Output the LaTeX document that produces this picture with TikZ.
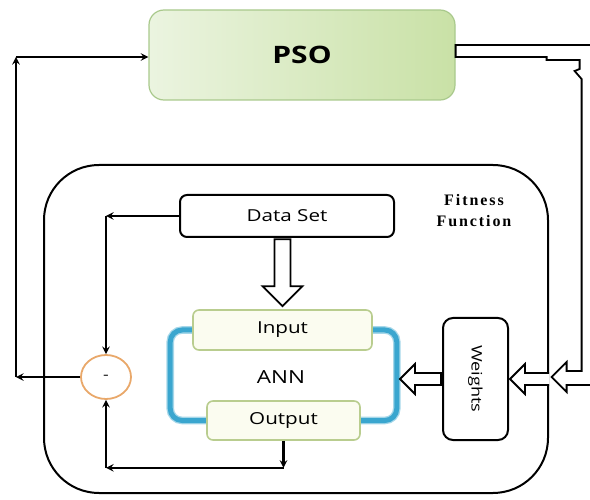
\documentclass[tikz,border=0pt]{standalone}
\usepackage{fontspec}
\setsansfont{Open Sans}[FakeStretch=1.25]
\newfontfamily\fitfont{Liberation Serif}[LetterSpace=12]
\usepackage{tikz}
\usetikzlibrary{arrows.meta,positioning,calc,shapes.geometric,backgrounds}
\definecolor{psoleft}{HTML}{EBF4E0}
\definecolor{psoright}{HTML}{C9E1A6}
\definecolor{psoedge}{HTML}{A9C98C}
\definecolor{annedge}{HTML}{B9CD8F}
\definecolor{annfill}{HTML}{FBFCF0}
\definecolor{annblue}{HTML}{3AA6CF}
\definecolor{sumedge}{HTML}{E9A86A}

\begin{document}
\begin{tikzpicture}[
  x=1pt, y=-1pt,
  font=\sffamily,
  psobox/.style={
    rectangle, draw=psoedge, line width=1.2pt, rounded corners=15pt,
    left color=psoleft, right color=psoright,
    minimum width=306pt, minimum height=90pt, inner sep=0pt,
    font=\sffamily\bfseries\fontsize{24}{28}\selectfont
  },
  plainbox/.style={
    rectangle, draw, line width=2pt, rounded corners=7pt,
    fill=white, inner sep=0pt,
    font=\sffamily\fontsize{16.5}{19}\selectfont
  },
  annpart/.style={
    rectangle, draw=annedge, line width=1.6pt, rounded corners=6pt,
    fill=annfill, inner sep=0pt,
    font=\sffamily\fontsize{16.5}{19}\selectfont
  },
  sumnode/.style={
    ellipse, draw=sumedge, line width=1.8pt, fill=white,
    minimum width=50pt, minimum height=44pt, inner sep=0pt,
    font=\sffamily\fontsize{14}{16}\selectfont
  },
  annring/.style={
    draw=annblue!45, double=annblue, double distance=5pt,
    line width=1.3pt, rounded corners=12pt
  },
  flow/.style={-stealth, line width=2.3pt},
  hollow/.style={draw, line width=1.8pt, fill=white, line join=miter}
]
\useasboundingbox (0,0) rectangle (590,500);

% fitness function frame
\node[rectangle, draw, line width=2pt, rounded corners=55pt,
      minimum width=504pt, minimum height=328pt] (fitbox) at (296,329) {};
\node[font=\fitfont\bfseries\fontsize{16}{21}\selectfont, align=center]
  (fitlabel) at (474,211) {Fitness\\Function};

% main blocks
\node[psobox] (pso) at (302,55) {PSO};
\node[plainbox, minimum width=214pt, minimum height=42pt] (data) at (287,216) {Data Set};
\node[annpart, minimum width=179pt, minimum height=40pt] (input) at (282.5,330) {Input};
\node[annpart, minimum width=153pt, minimum height=39pt] (output) at (283.5,420.5) {Output};
\node[font=\sffamily\fontsize{18}{21}\selectfont] (ann) at (281,377) {ANN};
\node[plainbox, rounded corners=10pt, minimum width=65pt, minimum height=122pt,
      font=\sffamily\fontsize{14.5}{17}\selectfont] (weights) at (475.5,379)
  {\rotatebox{-90}{Weights}};
\node[sumnode] (sum) at (106,377) {-};

% ANN frame
\begin{scope}[on background layer]
  \draw[annring] (input.west) -| ($(output.west)+(-36,0)$) -- (output.west);
  \draw[annring] (input.east) -| ($(output.east)+(36,0)$) -- (output.east);
\end{scope}

% block arrows
\draw[hollow] ($(input.north)+(-8,-70)$) -- ++(0,47) -- ++(-12,0)
  -- ($(input.north)+(0,-3)$) -- ($(input.north)+(20,-23)$)
  -- ++(-12,0) -- ++(0,-47) -- cycle;
\draw[hollow] ($(weights.west)+(-1,-6)$) -- ++(-26,0) -- ++(0,-9)
  -- ++(-15,15) -- ++(15,15) -- ++(0,-9) -- ++(26,0) -- cycle;
\draw[hollow] ($(weights.east)+(40,-6)$) -- ++(-24,0) -- ++(0,-9)
  -- ++(-15,15) -- ++(15,15) -- ++(0,-9) -- ++(24,0);
\draw[hollow, fill=none] ($(pso.east)+(140,-10)$) -- ($(pso.east)+(0,-10)$)
  -- ($(pso.east)+(0,2)$) -- ++(91,0) -- ++(0,3) -- ++(33,0) -- ++(0,9)
  -- ++(-5,2) -- ++(7,8) -- ++(0,292) -- ++(-15,0) -- ++(0,-9)
  -- ++(-15,15) -- ++(15,15) -- ++(0,-7) -- ++(29,0);

% feedback lines
\coordinate (fbdown) at (16,377);
\coordinate (fbup) at (16,57);
\draw[flow] (sum.west) -- (fbdown);
\draw[flow] (fbdown) -- (fbup);
\draw[flow] (fbup) -- (fbup -| pso.west);

\coordinate (dscorner) at (sum |- data.west);
\draw[flow] (data.west) -- (dscorner);
\draw[flow] (dscorner) -- (sum.north);

\coordinate (outdown) at ($(output.south)+(0,27)$);
\coordinate (outcorner) at (sum |- outdown);
\draw[flow] (output.south) -- (outdown);
\draw[flow] (outdown) -- (outcorner);
\draw[flow] (outcorner) -- (sum.south);
\end{tikzpicture}
\end{document}
